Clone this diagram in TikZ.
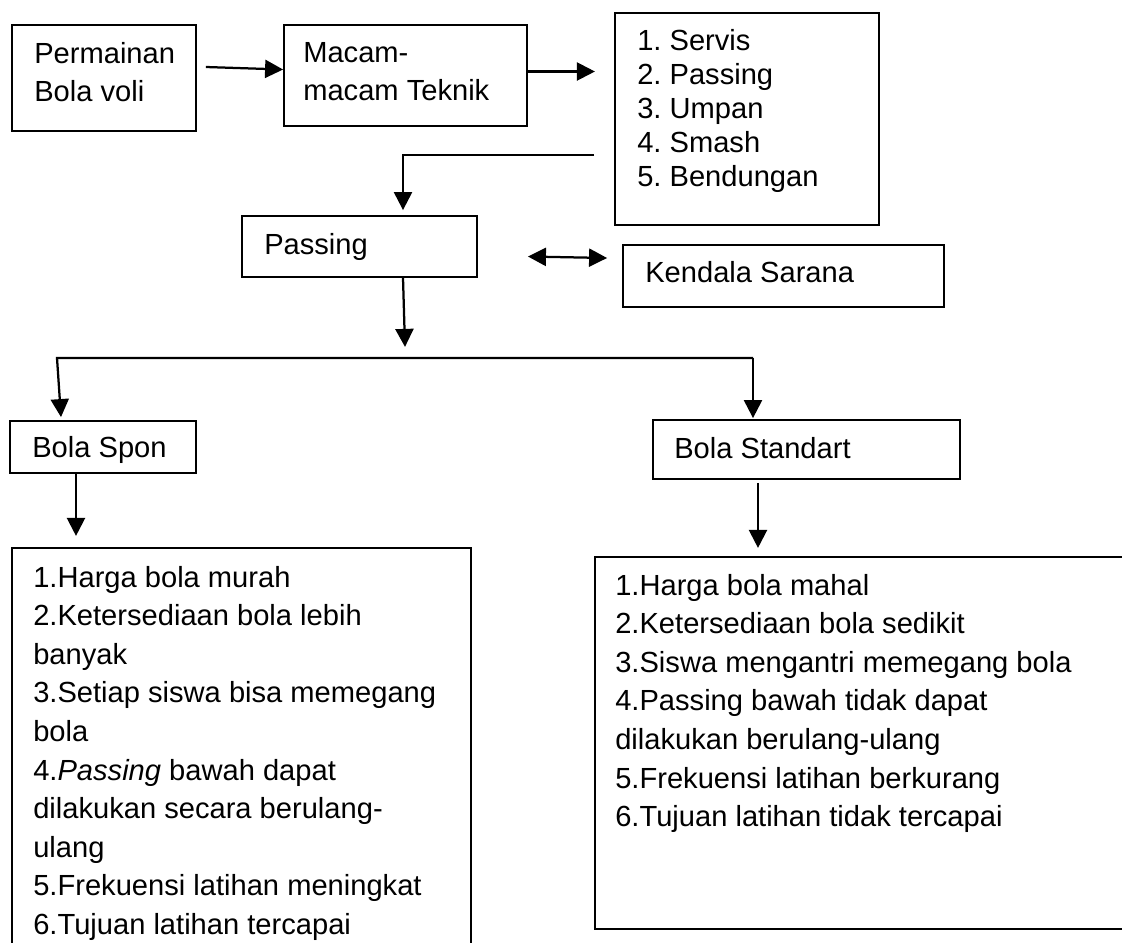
\documentclass[tikz,border=0pt]{standalone}
\usepackage{fontspec}
\setmainfont{Liberation Sans}
\usetikzlibrary{arrows.meta,calc,fit}
\frenchspacing

\begin{document}
\begin{tikzpicture}[
		x=0.025cm, y=-0.025cm,
		arrow/.style={-{Triangle[length=0.45cm,width=0.45cm]}, line width=1.6pt},
		dblarrow/.style={{Triangle[length=0.45cm,width=0.45cm]}-{Triangle[length=0.45cm,width=0.45cm]}, line width=1.6pt},
		box/.style={draw, line width=1.3pt, inner sep=0pt},
		txt/.style={anchor=north west, inner sep=0pt, align=left, font=\fontsize{20.7}{27.4}\selectfont},
		listtxt/.style={txt, font=\fontsize{20.7}{24.2}\selectfont},
	]
		\useasboundingbox (0,0) rectangle (1122,942);
		\clip (0,0) rectangle (1122,942);
		
		\node (perm) [box, fit={(12,25) (196,131)}] {};
		\node (teknik) [box, fit={(284,25) (527,126)}] {};
		\node (daftar) [box, fit={(615,13) (879,225)}] {};
		\node (passing) [box, fit={(242,216) (477,277)}] {};
		\node (kendala) [box, fit={(623,245) (944,307)}] {};
		\node (spon) [box, fit={(10,421) (196,473)}] {};
		\node (standart) [box, fit={(653,420) (960,479)}] {};
		\node (sponlist) [box, fit={(12,548) (471,990)}] {};
		\node (stdlist) [box, fit={(595,557) (1160,929)}] {};
		
		\node (permtxt) [txt] at (34,42) {Permainan\\Bola voli};
		\node (teknikttxt) [txt] at (303,42) {Macam-\\macam Teknik};
		\node (daftartxt) [listtxt] at (637,29) {1. Servis\\2. Passing\\3. Umpan\\4. Smash\\5. Bendungan};
		\node (passingtxt) [txt] at (264,233) {Passing};
		\node (kendalatxt) [txt] at (645,261) {Kendala Sarana};
		\node (spontxt) [txt] at (32,436) {Bola Spon};
		\node (standarttxt) [txt] at (674,437) {Bola Standart};
		\node (sponlisttxt) [txt] at (33,566) {1.Harga bola murah\\2.Ketersediaan bola lebih\\banyak\\3.Setiap siswa bisa memegang\\bola\\4.\textit{Passing} bawah dapat\\dilakukan secara berulang-\\ulang\\5.Frekuensi latihan meningkat\\6.Tujuan latihan tercapai};
		\node (stdlisttxt) [txt] at (615,574) {1.Harga bola mahal\\2.Ketersediaan bola sedikit\\3.Siswa mengantri memegang bola\\4.Passing bawah tidak dapat\\dilakukan berulang-ulang\\5.Frekuensi latihan berkurang\\6.Tujuan latihan tidak tercapai};
		
		\coordinate (forkl) at (57,358);
		\coordinate (forkr) at (753,358);
		
		\draw[arrow] ($(perm.east)+(9,-11)$) -- ($(teknik.west)+(0,-6)$);
		\draw[arrow] ($(teknik.east)+(0,-4)$) -- ++(67,0);
		\draw[arrow] ($(daftar.west)+(-20,36)$) -| ($(passing.north)+(43.5,-5)$);
		\draw[dblarrow] ($(passing.east)+(50,10)$) -- ($(kendala.west)+(-15,-18)$);
		\draw[arrow] ($(passing.south)+(43.5,0)$) -- ++(2,69);
		\draw[arrow] (forkr) -- (forkl) -- ($(spon.north)+(-42,-3)$);
		\draw[arrow] (forkr) -- ($(standart.north)+(-53.5,-1)$);
		\draw[arrow] ($(spon.south)+(-27,0)$) -- ++(0,62);
		\draw[arrow] ($(standart.south)+(-48.5,3)$) -- ++(0,65);
	\end{tikzpicture}
\end{document}
